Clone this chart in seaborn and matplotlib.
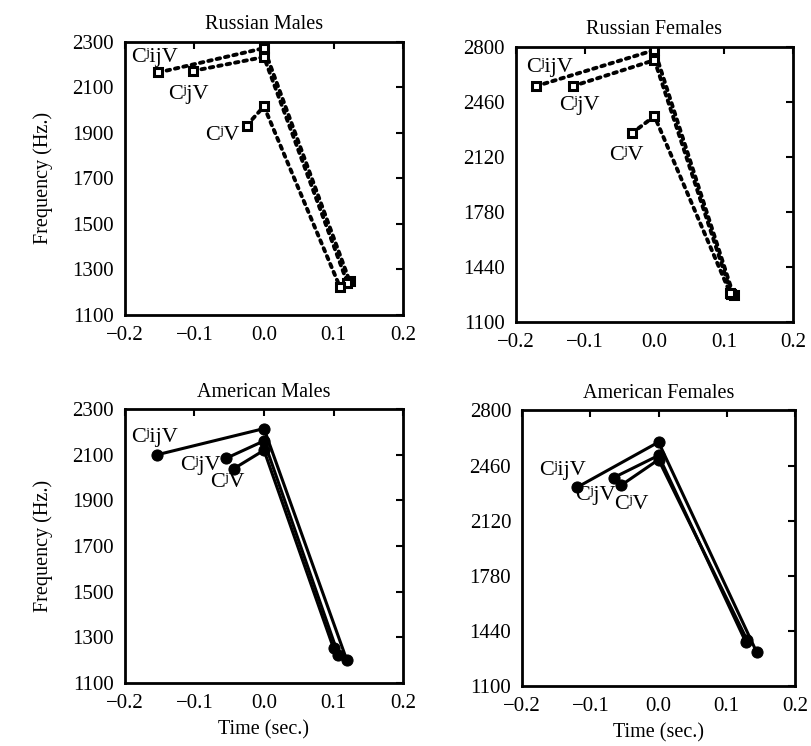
import matplotlib
matplotlib.use("Agg")
import matplotlib.pyplot as plt
import seaborn as sns
import pandas as pd

sns.set_theme(style="white")
plt.rcParams['font.family'] = ['Liberation Serif', 'DejaVu Serif']
plt.rcParams['text.color'] = 'black'
plt.rcParams['axes.labelcolor'] = 'black'
plt.rcParams['xtick.color'] = 'black'
plt.rcParams['ytick.color'] = 'black'

series = ["CʲijV", "CʲjV", "CʲV"]

# Russian Males
rm_time = [[-0.152, 0.0, 0.123], [-0.102, 0.0, 0.120], [-0.025, 0.0, 0.109]]
rm_freq = [[2165, 2272, 1249], [2172, 2233, 1240], [1932, 2016, 1224]]
rm_lab = [(-0.157, 2230), (-0.108, 2067), (-0.060, 1887)]

# Russian Females
rf_time = [[-0.171, 0.0, 0.114], [-0.118, 0.0, 0.111], [-0.033, 0.0, 0.109]]
rf_freq = [[2558, 2781, 1267], [2558, 2719, 1275], [2266, 2373, 1281]]
rf_lab = [(-0.151, 2676), (-0.108, 2441), (-0.041, 2132)]

# American Males
am_time = [[-0.154, 0.0, 0.119], [-0.055, 0.0, 0.107], [-0.043, 0.0, 0.100]]
am_freq = [[2100, 2215, 1201], [2084, 2161, 1223], [2040, 2120, 1252]]
am_lab = [(-0.157, 2178), (-0.092, 2055), (-0.052, 1980)]

# American Females
af_time = [[-0.119, 0.0, 0.144], [-0.066, 0.0, 0.128], [-0.055, 0.0, 0.130]]
af_freq = [[2327, 2604, 1311], [2385, 2522, 1373], [2338, 2496, 1385]]
af_lab = [(-0.141, 2430), (-0.092, 2276), (-0.040, 2221)]

titles = ["Russian Males", "Russian Females", "American Males", "American Females"]
xticks = [-0.2, -0.1, 0.0, 0.1, 0.2]
yticks_m = [1100, 1300, 1500, 1700, 1900, 2100, 2300]
yticks_f = [1100, 1440, 1780, 2120, 2460, 2800]

fig = plt.figure(figsize=(8.11, 7.46), dpi=100)
rects = [
    [0.154, 0.578, 0.343, 0.366],
    [0.636, 0.568, 0.342, 0.369],
    [0.154, 0.0845, 0.343, 0.367],
    [0.644, 0.080, 0.336, 0.370],
]
panels = [
    (rm_time, rm_freq, rm_lab, yticks_m, True),
    (rf_time, rf_freq, rf_lab, yticks_f, True),
    (am_time, am_freq, am_lab, yticks_m, False),
    (af_time, af_freq, af_lab, yticks_f, False),
]

for i, (rect, (tt, ff, labs, yt, russian), title) in enumerate(zip(rects, panels, titles)):
    ax = fig.add_axes(rect)
    for s, t, f in zip(series, tt, ff):
        df = pd.DataFrame({"t": t, "f": f})
        if russian:
            sns.lineplot(data=df, x="t", y="f", ax=ax, sort=False, estimator=None,
                         color="black", linewidth=2.8, linestyle=(0, (0.9, 1.3)),
                         marker="s", markersize=6, markerfacecolor="white",
                         markeredgecolor="black", markeredgewidth=2.2,
                         dash_capstyle="round")
        else:
            sns.lineplot(data=df, x="t", y="f", ax=ax, sort=False, estimator=None,
                         color="black", linewidth=2.2, linestyle="-",
                         marker="o", markersize=8, markerfacecolor="black",
                         markeredgecolor="black")
    for s, (lx, ly) in zip(series, labs):
        ax.text(lx, ly, s, ha="center", va="center", fontsize=16, color="black")
    ax.set_xlim(-0.2, 0.2)
    ax.set_ylim(yt[0], yt[-1])
    ax.set_xticks(xticks)
    ax.set_xticklabels(["\u22120.2", "\u22120.1", "0.0", "0.1", "0.2"])
    ax.set_yticks(yt)
    ax.tick_params(direction="in", top=True, right=True, length=5, width=1.5,
                   labelsize=15, colors="black", pad=8)
    for sp in ax.spines.values():
        sp.set_visible(True)
        sp.set_color("black")
        sp.set_linewidth(2.0)
    ax.set_title(title, fontsize=14.5, pad=9, color="black")
    ax.set_xlabel("Time (sec.)" if i >= 2 else "", fontsize=14.5, labelpad=5, color="black")
    ax.set_ylabel("Frequency (Hz.)" if i % 2 == 0 else "", fontsize=14.5, labelpad=14, color="black")
    ax.grid(False)

fig.savefig("out.png", dpi=100)
